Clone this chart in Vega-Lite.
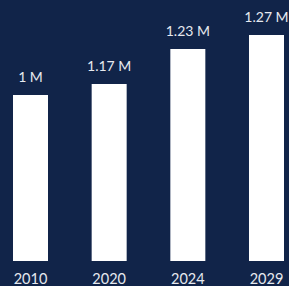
{
  "$schema": "https://vega.github.io/schema/vega-lite/v6.json",
  "width": 271,
  "height": 261,
  "autosize": {"type": "none"},
  "padding": {"left": 13, "top": 0, "right": 5, "bottom": 25},
  "background": "#112449",
  "config": {"view": {"stroke": null}},
  "data": {
    "values": [
      {"year": "2010", "value": 1.0, "label": "1 M"},
      {"year": "2020", "value": 1.066, "label": "1.17 M"},
      {"year": "2024", "value": 1.277, "label": "1.23 M"},
      {"year": "2029", "value": 1.361, "label": "1.27 M"}
    ]
  },
  "encoding": {
    "x": {
      "field": "year",
      "type": "nominal",
      "sort": null,
      "scale": {"paddingInner": 0.555, "paddingOuter": 0},
      "axis": {
        "title": null,
        "labelAngle": 0,
        "ticks": false,
        "domain": false,
        "labelPadding": 11,
        "labelFont": "Lato",
        "labelFontSize": 14.5,
        "labelColor": "#e6e9ef"
      }
    },
    "y": {
      "field": "value",
      "type": "quantitative",
      "scale": {"domain": [0, 1.572]},
      "axis": null
    }
  },
  "layer": [
    {"mark": {"type": "bar", "color": "#ffffff"}},
    {
      "mark": {
        "type": "text",
        "baseline": "alphabetic",
        "dy": -13,
        "font": "Lato",
        "fontSize": 14,
        "color": "#e6e9ef"
      },
      "encoding": {"text": {"field": "label"}}
    }
  ]
}
